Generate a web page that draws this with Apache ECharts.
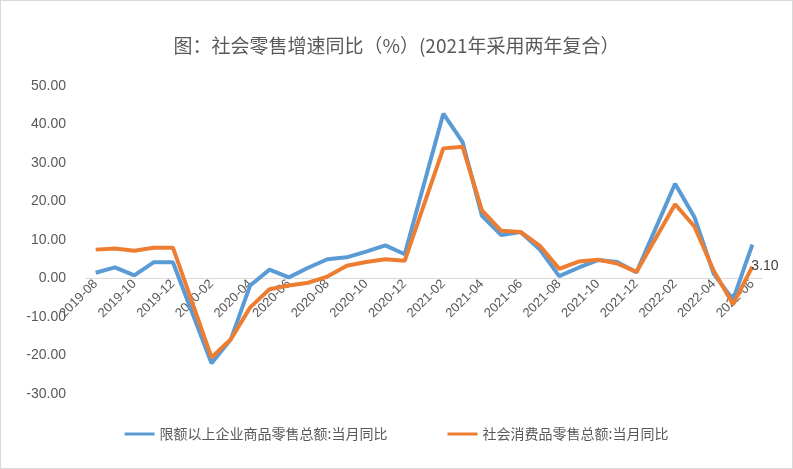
<!DOCTYPE html>
<html><head><meta charset="utf-8">
<script src="https://cdn.jsdelivr.net/npm/echarts@6/dist/echarts.min.js"></script>
<style>html,body{margin:0;padding:0;background:#fff}#c{width:793px;height:469px;box-sizing:border-box;border:1px solid #d9d9d9}</style>
</head><body><div id="c"></div>
<script>
const categories = ['2019-08','2019-09','2019-10','2019-11','2019-12','2020-01','2020-02','2020-03','2020-04','2020-05','2020-06','2020-07','2020-08','2020-09','2020-10','2020-11','2020-12','2021-01','2021-02','2021-03','2021-04','2021-05','2021-06','2021-07','2021-08','2021-09','2021-10','2021-11','2021-12','2022-01','2022-02','2022-03','2022-04','2022-05','2022-06'];
const limitSales = [1.5,2.9,0.8,4.2,4.2,null,-22.0,-15.8,-1.8,2.3,0.3,2.8,5.0,5.5,7.0,8.6,6.3,null,42.8,35.4,16.3,11.3,12.1,7.5,0.6,2.8,4.8,4.3,1.6,null,24.6,16.0,1.2,-5.5,8.8];
const retailSales = [7.5,7.8,7.2,8.0,8.0,null,-20.5,-15.8,-7.5,-2.8,-1.8,-1.1,0.5,3.3,4.3,5.0,4.6,null,33.8,34.2,17.7,12.4,12.1,8.5,2.5,4.4,4.9,3.9,1.7,null,19.3,13.5,2.0,-6.7,3.1];
const chart = echarts.init(document.getElementById('c'));
const gridTop = 85, gridBottom = 74, yMin = -30, yMax = 50;
const plotH = 469 - gridTop - gridBottom;
const zeroOffset = -plotH * (0 - yMin) / (yMax - yMin);
chart.setOption({
  animation:false,
  title:{text:'图：社会零售增速同比（%）(2021年采用两年复合）',left:'center',top:30,textStyle:{fontSize:19,fontWeight:'normal',color:'#595959',fontFamily:'Noto Sans CJK SC'}},
  legend:{bottom:22,itemWidth:30,itemHeight:3,itemGap:60,icon:'rect',textStyle:{fontSize:14,color:'#595959',fontFamily:'Noto Sans CJK SC'}},
  grid:{left:85,right:30,top:gridTop,bottom:gridBottom},
  xAxis:{type:'category',data:categories,boundaryGap:true,position:'bottom',offset:zeroOffset,
    axisLine:{onZero:false,lineStyle:{color:'#d9d9d9'}},axisTick:{show:false},
    axisLabel:{interval:1,rotate:45,color:'#595959',fontSize:13,margin:4}},
  yAxis:{type:'value',min:yMin,max:yMax,interval:10,splitLine:{show:false},axisLine:{show:false},axisTick:{show:false},
    axisLabel:{formatter:v=>v.toFixed(2),color:'#595959',fontSize:14,margin:20}},
  series:[
    {name:'限额以上企业商品零售总额:当月同比',type:'line',data:limitSales,connectNulls:true,showSymbol:false,z:2,lineStyle:{width:4,color:'#5B9BD5'},itemStyle:{color:'#5B9BD5'}},
    {name:'社会消费品零售总额:当月同比',type:'line',connectNulls:true,symbol:'circle',symbolSize:0,z:3,lineStyle:{width:4,color:'#ED7D31'},itemStyle:{color:'#ED7D31'},
     data:retailSales.map((v,i)=>i===retailSales.length-1?{value:v,label:{show:true,position:'right',formatter:p=>p.value.toFixed(2),fontSize:14,color:'#404040',offset:[-6,0]}}:v)}
  ]
});
</script></body></html>
